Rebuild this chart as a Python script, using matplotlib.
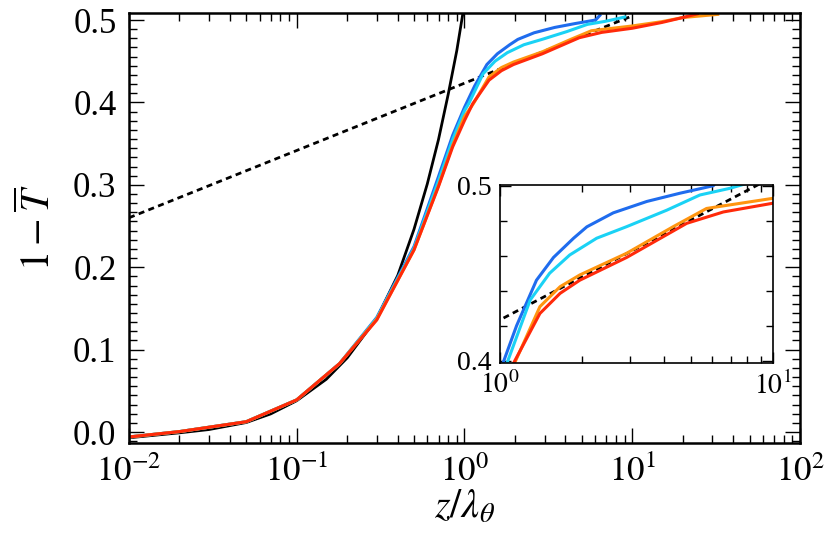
import numpy as np
import matplotlib
matplotlib.use('Agg')
import matplotlib.pyplot as plt
from matplotlib.ticker import FixedLocator, LogLocator, NullFormatter, MultipleLocator

plt.rcParams['font.family'] = ['Liberation Serif', 'DejaVu Serif']
plt.rcParams['mathtext.fontset'] = 'stix'

# ---- data ----
# black solid curve
black_z = [0.01, 0.02, 0.03, 0.05, 0.07, 0.1, 0.15, 0.2, 0.3, 0.4, 0.5, 0.6,
           0.7, 0.8, 0.9, 1.0]
black_v = [-0.007, -0.001, 0.003, 0.0115, 0.022, 0.038, 0.064, 0.090, 0.138,
           0.190, 0.246, 0.301, 0.355, 0.410, 0.463, 0.520]

# black dotted straight line (log-linear)
dot_z = [0.01, 10.0]
dot_v = [0.260, 0.505]

blue_z = [0.01, 0.02, 0.05, 0.1, 0.18, 0.3, 0.5, 0.7, 0.85, 1.0, 1.15, 1.36,
          1.57, 1.86, 2.08, 2.6, 3.45, 4.56, 6.05, 6.5]
blue_v = [-0.006, 0.0005, 0.0125, 0.039, 0.083, 0.139, 0.225, 0.31, 0.36,
          0.394, 0.42, 0.446, 0.459, 0.470, 0.4765, 0.4845, 0.491, 0.4957,
          0.500, 0.507]

cyan_z = [0.01, 0.02, 0.05, 0.1, 0.18, 0.3, 0.5, 0.7, 0.85, 1.0, 1.06, 1.29,
          1.52, 1.80, 2.26, 2.91, 4.08, 5.4, 6.95, 9.2]
cyan_v = [-0.006, 0.0005, 0.0125, 0.039, 0.083, 0.138, 0.223, 0.305, 0.355,
          0.390, 0.3985, 0.4347, 0.450, 0.4604, 0.470, 0.4766, 0.486, 0.4947,
          0.4985, 0.504]

orange_z = [0.01, 0.02, 0.05, 0.1, 0.18, 0.3, 0.5, 0.7, 0.85, 1.0, 1.13, 1.4,
            1.66, 1.96, 2.91, 4.31, 5.71, 10, 15, 20, 33]
orange_v = [-0.006, 0.0005, 0.0125, 0.039, 0.083, 0.137, 0.221, 0.299, 0.348,
            0.383, 0.3985, 0.4309, 0.4423, 0.449, 0.4614, 0.4766, 0.487,
            0.4928, 0.498, 0.503, 0.507]

red_z = [0.01, 0.02, 0.05, 0.1, 0.18, 0.3, 0.5, 0.7, 0.85, 1.0, 1.12, 1.4,
         1.66, 1.96, 2.91, 4.83, 6.58, 10, 15, 20, 25]
red_v = [-0.006, 0.0005, 0.0125, 0.039, 0.083, 0.136, 0.221, 0.298, 0.346,
         0.378, 0.3985, 0.427, 0.4385, 0.446, 0.459, 0.4785, 0.485, 0.490,
         0.497, 0.503, 0.508]

curves = [(blue_z, blue_v, '#1f6cee'),
          (cyan_z, cyan_v, '#1ad2f5'),
          (orange_z, orange_v, '#ff9510'),
          (red_z, red_v, '#ff2a0a')]


def draw(ax, lw):
    ax.plot(dot_z, dot_v, color='k', lw=lw * 0.9, linestyle=(0, (2.2, 1.6)))
    ax.plot(black_z, black_v, color='k', lw=lw * 0.9)
    for z, v, c in curves:
        ax.plot(z, v, color=c, lw=lw, solid_capstyle='butt')


def pow10(v, pos):
    return r'$\mathrm{10^{%d}}$' % int(round(np.log10(v)))


def one_dec(v, pos):
    return '%.1f' % v


def style(ax, fs, major_len, minor_len):
    ax.tick_params(which='both', direction='in', top=True, right=True,
                   labelsize=fs, width=1.0, pad=9)
    ax.tick_params(which='major', length=major_len)
    ax.tick_params(which='minor', length=minor_len)


fig = plt.figure(figsize=(8.31, 5.40), dpi=100)

ax = fig.add_axes([0.1552, 0.1796, 0.8075, 0.7963])
draw(ax, 2.2)
ax.set_xscale('log')
ax.set_xlim(1e-2, 1e2)
ax.set_ylim(-0.01335, 0.5085)
ax.xaxis.set_major_locator(LogLocator(base=10, numticks=10))
ax.xaxis.set_minor_locator(LogLocator(base=10, subs=np.arange(2, 10), numticks=20))
ax.xaxis.set_minor_formatter(NullFormatter())
ax.xaxis.set_major_formatter(plt.FuncFormatter(pow10))
ax.yaxis.set_major_locator(FixedLocator([0.0, 0.1, 0.2, 0.3, 0.4, 0.5]))
ax.yaxis.set_major_formatter(plt.FuncFormatter(one_dec))
ax.yaxis.set_minor_locator(MultipleLocator(0.1 / 9))
style(ax, 25, 11, 6)
for s in ax.spines.values():
    s.set_linewidth(1.8)
ax.set_xlabel(r'$z/\lambda_\theta$', fontsize=29, labelpad=0)
ax.set_ylabel(r'$1-\overline{T}$', fontsize=29, labelpad=10)

ins = fig.add_axes([0.6017, 0.3278, 0.3285, 0.3296])
draw(ins, 2.2)
ins.set_xscale('log')
ins.set_xlim(1, 10)
ins.set_ylim(0.3987, 0.5004)
ins.xaxis.set_major_locator(FixedLocator([1, 10]))
ins.xaxis.set_minor_locator(FixedLocator(np.arange(2, 10)))
ins.xaxis.set_minor_formatter(NullFormatter())
ins.xaxis.set_major_formatter(plt.FuncFormatter(pow10))
ins.yaxis.set_major_locator(FixedLocator([0.4, 0.5]))
ins.yaxis.set_major_formatter(plt.FuncFormatter(one_dec))
ins.yaxis.set_minor_locator(MultipleLocator(0.02))
style(ins, 20, 8, 5)
ins.tick_params(pad=6)
for s in ins.spines.values():
    s.set_linewidth(1.2)

fig.savefig('out.png', dpi=100)
